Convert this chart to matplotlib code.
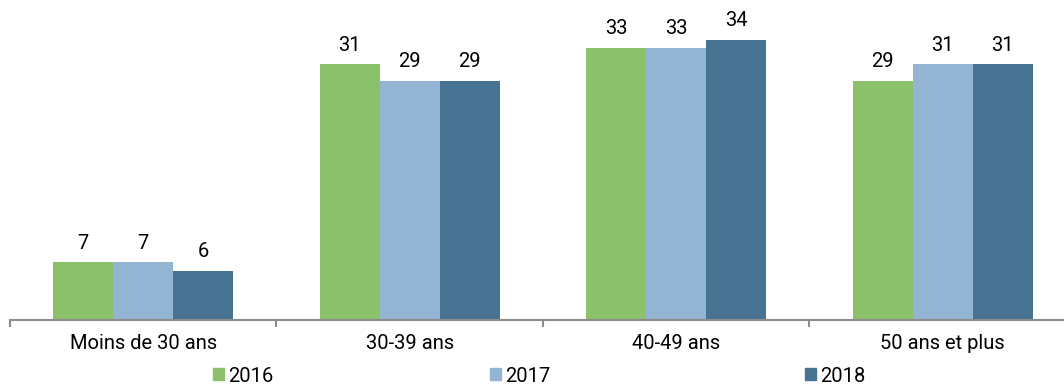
import numpy as np
import matplotlib.pyplot as plt
from matplotlib.patches import Patch

plt.rcParams['font.family'] = ['Roboto', 'DejaVu Sans']

categories = ['Moins de 30 ans', '30-39 ans', '40-49 ans', '50 ans et plus']
years = ['2016', '2017', '2018']
v2016 = [7, 31, 33, 29]
v2017 = [7, 29, 33, 31]
v2018 = [6, 29, 34, 31]
colors = ['#8BC16A', '#93B5D3', '#487291']

fig = plt.figure(figsize=(10.64, 3.85), dpi=100)
ax = fig.add_axes([10 / 1064, 1 - 320 / 385, 1 - 10 / 1064, 320 / 385])

x = np.arange(len(categories))
w = 0.225
for i, (vals, c) in enumerate(zip([v2016, v2017, v2018], colors)):
    bars = ax.bar(x + (i - 1) * w, vals, width=w, color=c, label=years[i])
    for b, v in zip(bars, vals):
        ax.annotate(str(v), (b.get_x() + b.get_width() / 2, v), xytext=(0, 7),
                    textcoords='offset points', ha='center', va='bottom', fontsize=14.5)

ax.set_yticks([])
for s in ['top', 'right', 'left']:
    ax.spines[s].set_visible(False)
ax.spines['bottom'].set_color('#8c8c8c')
ax.spines['bottom'].set_linewidth(1.5)
ax.set_xticks([-0.5, 0.5, 1.5, 2.5, 3.5])
ax.set_xticklabels([])
ax.tick_params(axis='x', length=5, width=1.5, color='#8c8c8c')
ax.set_xlim(-0.5, 3.455)
ax.set_ylim(0, 38.8)
for xi, lab in zip(x, categories):
    ax.text(xi, -0.045, lab, transform=ax.get_xaxis_transform(), ha='center', va='top', fontsize=14.5)

legend_x = [213, 490, 805]
for lx, yr, c in zip(legend_x, years, colors):
    fig.legend(handles=[Patch(color=c)], labels=[yr], loc='center left',
               bbox_to_anchor=(lx / 1064, 1 - 376 / 385), frameon=False, fontsize=14.5,
               handlelength=0.55, handleheight=0.55, handletextpad=0.2,
               borderpad=0, borderaxespad=0)

fig.savefig('out.png', dpi=100)
